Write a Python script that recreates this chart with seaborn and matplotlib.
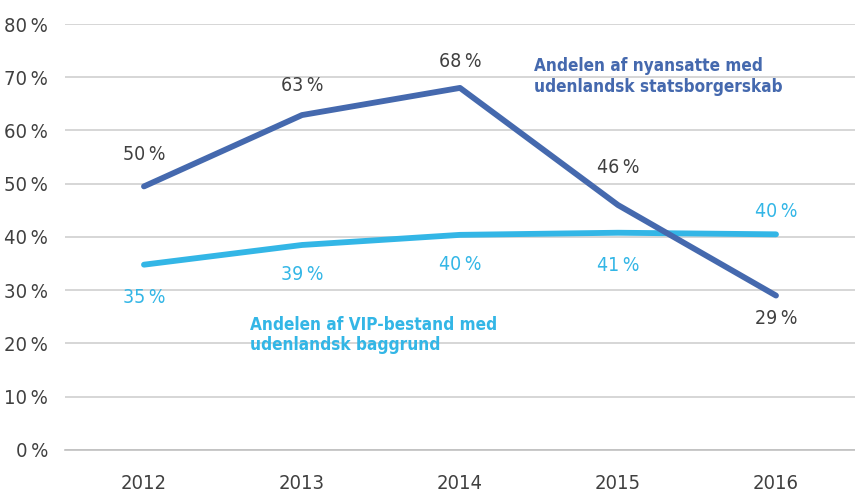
import seaborn as sns
import matplotlib.pyplot as plt
import pandas as pd

# data
years = ["2012", "2013", "2014", "2015", "2016"]
nyansatte = [49.5, 62.9, 68.0, 46.0, 29.0]
vip = [34.8, 38.5, 40.4, 40.8, 40.5]
nyansatte_labels = ["50\u2009%", "63\u2009%", "68\u2009%", "46\u2009%", "29\u2009%"]
vip_labels = ["35\u2009%", "39\u2009%", "40\u2009%", "41\u2009%", "40\u2009%"]
y_ticks = [0, 10, 20, 30, 40, 50, 60, 70, 80]

# how far above (+) / below (-) each point its label sits
nyansatte_off = [6.0, 5.5, 4.9, 7.0, -4.3]
vip_off = [-6.1, -5.6, -5.5, -6.1, 4.2]

dark_blue = "#4569ae"
light_blue = "#33b6e6"
grey_text = "#404040"

df = pd.DataFrame({"year": years * 2,
                   "value": vip + nyansatte,
                   "serie": ["vip"] * 5 + ["nyansatte"] * 5})

sns.set_style("white")
plt.rcParams['font.family'] = ['DejaVu Sans']
plt.rcParams['font.stretch'] = 'condensed'

fig = plt.figure(figsize=(8.55, 4.97), dpi=100)
ax = fig.add_axes([0.076, 0.0946, 0.924, 0.8571])

sns.lineplot(data=df, x="year", y="value", hue="serie",
             palette={"vip": light_blue, "nyansatte": dark_blue},
             linewidth=4.2, legend=False, ax=ax, sort=False)
for line in ax.get_lines():
    line.set_solid_capstyle("round")
    line.set_solid_joinstyle("round")

ax.set_ylim(0, 80)
ax.set_xlim(-0.5, 4.5)
ax.set_yticks(y_ticks)
ax.set_yticklabels([f"{t}\u2009%" for t in y_ticks])
ax.yaxis.grid(True, color="#d0d0d0", linewidth=1.2)
ax.set_axisbelow(True)
for s in ["top", "right", "left"]:
    ax.spines[s].set_visible(False)
ax.spines["bottom"].set_color("#c0c0c0")
ax.spines["bottom"].set_linewidth(1.2)
ax.tick_params(axis="y", length=0, pad=12, labelsize=14.5, labelcolor=grey_text)
ax.tick_params(axis="x", length=5, width=1, color="#c0c0c0", direction="out",
               pad=12, labelsize=14.5, labelcolor=grey_text)
ax.set_xlabel("")
ax.set_ylabel("")

# point labels
for i, (v, lab) in enumerate(zip(nyansatte, nyansatte_labels)):
    ax.text(i, v + nyansatte_off[i], lab, ha="center", va="center",
            fontsize=14, color=grey_text)
for i, (v, lab) in enumerate(zip(vip, vip_labels)):
    ax.text(i, v + vip_off[i], lab, ha="center", va="center",
            fontsize=14, color=light_blue)

ax.text(2.468, 70.2, "Andelen af nyansatte med\nudenlandsk statsborgerskab",
        fontsize=12.3, fontweight="bold", color=dark_blue, linespacing=1.2,
        ha="left", va="center")
ax.text(0.671, 21.6, "Andelen af VIP-bestand med\nudenlandsk baggrund",
        fontsize=12.3, fontweight="bold", color=light_blue, linespacing=1.2,
        ha="left", va="center")

fig.savefig("out.png", dpi=100)
